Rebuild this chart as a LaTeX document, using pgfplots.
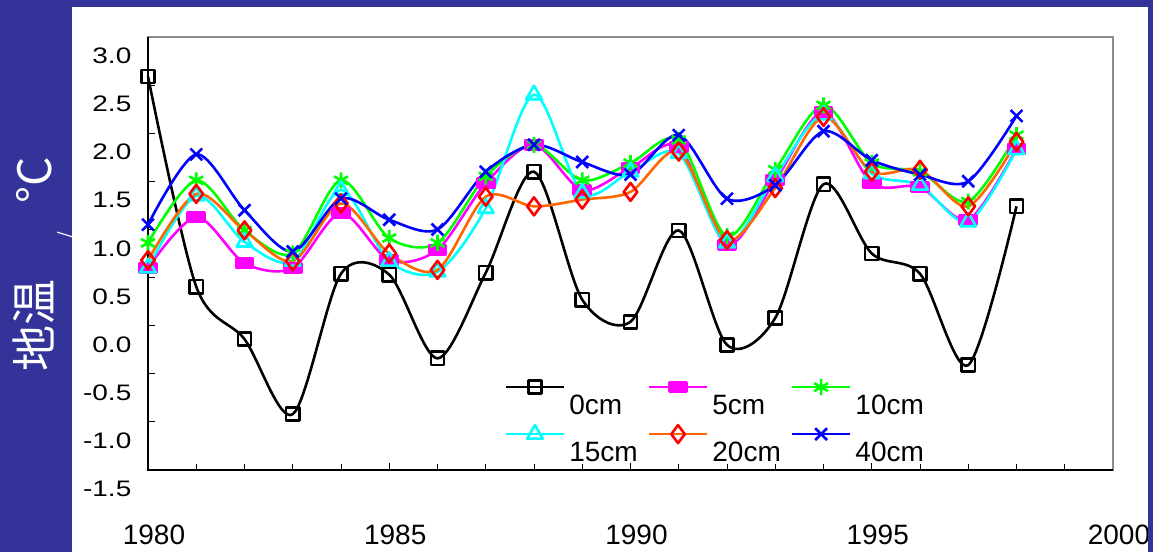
\documentclass[border=0pt]{standalone}
\usepackage{fontspec}
\setmainfont{Liberation Sans}
\newfontfamily\cjk{Noto Sans CJK SC}
\usepackage{pgfplots}
\usepackage{pgfplotstable}
\pgfplotsset{compat=1.18}
\definecolor{slideblue}{HTML}{333399}
\definecolor{framegray}{HTML}{8C8C8C}
\definecolor{orangeline}{HTML}{FF6600}
\definecolor{limegreen}{HTML}{00FF00}
\definecolor{pinkline}{HTML}{FF00FF}
\definecolor{aqualine}{HTML}{00FFFF}
\definecolor{blueline}{HTML}{0000FF}
\definecolor{redmark}{HTML}{FF0000}

% soil temperature by depth, 1980-1998
\pgfplotstableread{
year  d0     d5    d10   d15   d20   d40
1980  2.59   0.60  0.86  0.60  0.68  1.05
1981  0.405  1.13  1.51  1.35  1.37  1.78
1982  -0.14  0.65  0.99  0.87  0.99  1.20
1983  -0.92  0.60  0.75  0.67  0.67  0.77
1984  0.54   1.17  1.51  1.41  1.27  1.32
1985  0.53   0.68  0.91  0.67  0.75  1.10
1986  -0.34  0.79  0.86  0.56  0.58  1.00
1987  0.55   1.48  1.55  1.22  1.34  1.60
1988  1.60   1.88  1.88  2.40  1.24  1.88
1989  0.27   1.41  1.51  1.38  1.31  1.70
1990  0.04   1.64  1.69  1.60  1.39  1.57
1991  0.99   1.86  1.93  1.79  1.81  1.98
1992  -0.20  0.84  0.93  0.86  0.89  1.32
1993  0.08   1.51  1.62  1.55  1.43  1.46
1994  1.47   2.22  2.29  2.19  2.17  2.02
1995  0.75   1.48  1.69  1.58  1.60  1.72
1996  0.54   1.44  1.60  1.46  1.62  1.57
1997  -0.41  1.10  1.29  1.08  1.24  1.50
1998  1.24   1.84  1.98  1.83  1.91  2.18
}\soiltemp

\begin{document}
\begin{tikzpicture}[x=1pt,y=1pt]
\fill[slideblue] (0,0) rectangle (576.5,276);
\fill[white] (36,0) rectangle (574,272.5);
\node[rotate=90, anchor=base, white, inner sep=0pt, font=\cjk\fontsize{23}{24}\selectfont]
  at (25.5,143.75) {地温\hspace{20pt}\raisebox{-11pt}{\fontsize{10}{10}\selectfont/}\hspace{14pt}°C};
\begin{axis}[
  at={(74pt,41pt)}, anchor=south west,
  scale only axis, width=482.5pt, height=216.5pt,
  xmin=1980, xmax=2000, ymin=-1.5, ymax=3.0,
  xtick={1980,1985,1990,1995,2000}, minor x tick num=4,
  ytick={-1.5,-1.0,-0.5,0,0.5,1.0,1.5,2.0,2.5,3.0},
  /pgf/number format/assume math mode=true,
  xticklabel style={font=\fontsize{14}{16}\selectfont, /pgf/number format/1000 sep={}, xshift=3pt, yshift=-24pt},
  yticklabel style={font=\fontsize{14}{16}\selectfont, /pgf/number format/fixed, /pgf/number format/fixed zerofill, /pgf/number format/precision=1, xshift=-4.8pt, yshift=-9.5pt, yscale=0.8},
  tick align=inside, tick pos=left,
  major tick length=3.5pt, minor tick length=3pt,
  tick style={black, line width=0.5pt},
  axis line style={framegray, line width=1pt},
  clip=false,
  every axis plot/.append style={line width=1.3pt, smooth, line join=round},
  legend columns=3,
  legend cell align=left,
  legend style={at={(rel axis cs:0.363,0.22)}, anchor=north west, draw=none, fill=none,
    font=\fontsize{14}{16}\selectfont, row sep=15pt,
    /tikz/every even column/.append style={column sep=3pt}},
  legend image code/.code={\draw[mark repeat=2,mark phase=2,#1] plot coordinates {(0pt,0pt)(14.5pt,0pt)(29pt,0pt)};},
]
\draw[black, line width=0.8pt] (rel axis cs:0,1) -- (rel axis cs:0,0) -- (rel axis cs:1,0);
\addplot[black, mark=square, mark size=3.3pt, mark options={fill=white}] table[x=year, y=d0] {\soiltemp};
\addlegendentry{\raisebox{-14.5pt}{0cm}}
\addplot[pinkline, mark=square*, mark size=2.3pt, mark options={xscale=1.85}] table[x=year, y=d5] {\soiltemp};
\addlegendentry{\raisebox{-14.5pt}{5cm}}
\addplot[limegreen, mark=asterisk, mark size=4pt] table[x=year, y=d10] {\soiltemp};
\addlegendentry{\raisebox{-14.5pt}{10cm}}
\addplot[aqualine, mark=triangle, mark size=4.5pt, mark options={fill=white}] table[x=year, y=d15] {\soiltemp};
\addlegendentry{\raisebox{-14.5pt}{15cm}}
\addplot[orangeline, mark=diamond, mark size=4.5pt, mark options={draw=redmark, fill=white}] table[x=year, y=d20] {\soiltemp};
\addlegendentry{\raisebox{-14.5pt}{20cm}}
\addplot[blueline, mark=x, mark size=4.2pt] table[x=year, y=d40] {\soiltemp};
\addlegendentry{\raisebox{-14.5pt}{40cm}}
\end{axis}
\fill[slideblue] (574,0) rectangle (576.5,276);
\pgfresetboundingbox
\path (0,0) rectangle (576.5,276);
\end{tikzpicture}
\end{document}
